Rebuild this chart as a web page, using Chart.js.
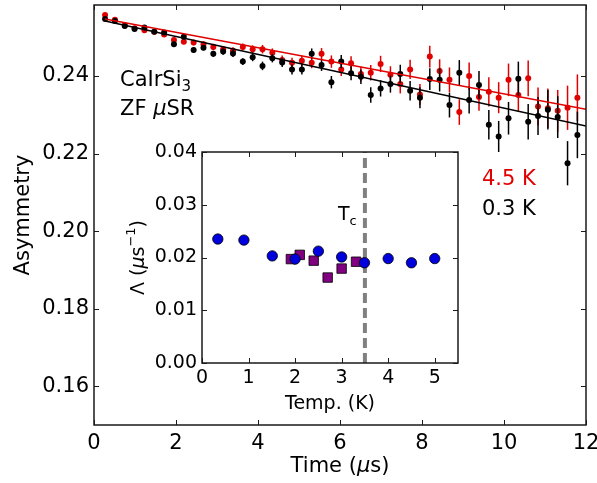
<!DOCTYPE html>
<html><head><meta charset="utf-8">
<script src="https://cdn.jsdelivr.net/npm/chart.js@4/dist/chart.umd.min.js"></script>
<style>
html,body{margin:0;padding:0;background:#fff;}
#wrap{position:relative;width:597px;height:483px;overflow:hidden;}
#main{position:absolute;left:0;top:0;}
#inset{position:absolute;left:120px;top:140px;}
</style></head>
<body><div id="wrap">
<canvas id="main" width="597" height="483"></canvas>
<canvas id="inset" width="350" height="278"></canvas>
</div>
<script>
// ---- main panel data ----
const times = [0.27,0.51,0.75,0.99,1.23,1.47,1.71,1.95,2.19,2.43,2.67,2.91,3.15,3.39,3.63,3.87,4.11,4.35,4.59,4.83,5.07,5.31,5.55,5.79,6.03,6.27,6.51,6.75,6.99,7.23,7.47,7.71,7.95,8.19,8.43,8.67,8.91,9.15,9.39,9.63,9.87,10.11,10.35,10.59,10.83,11.07,11.31,11.55,11.79];
const asym03K = [0.2547,0.2542,0.2529,0.2521,0.2525,0.2514,0.2512,0.2482,0.2501,0.2467,0.2473,0.2457,0.2463,0.2458,0.2437,0.2448,0.2426,0.2446,0.2435,0.2417,0.2417,0.2457,0.2428,0.2384,0.2437,0.2407,0.2398,0.2351,0.2368,0.2379,0.2405,0.2362,0.2344,0.2392,0.2390,0.2325,0.2408,0.2338,0.2377,0.2274,0.2244,0.2291,0.2393,0.2282,0.2297,0.2313,0.2294,0.2175,0.2248];
const asym45K = [0.2557,0.2545,0.2531,0.2523,0.2518,0.2514,0.2507,0.2493,0.2488,0.2486,0.2482,0.2475,0.2469,0.2465,0.2475,0.2469,0.2469,0.2460,0.2441,0.2434,0.2439,0.2434,0.2457,0.2437,0.2417,0.2433,0.2405,0.2408,0.2431,0.2403,0.2379,0.2417,0.2352,0.2450,0.2413,0.2390,0.2307,0.2400,0.2346,0.2359,0.2344,0.2390,0.2351,0.2394,0.2321,0.2317,0.2310,0.2318,0.2344];
const asymErr = [0.0004,0.0004,0.0005,0.0005,0.0005,0.0005,0.0006,0.0006,0.0006,0.0007,0.0007,0.0008,0.0008,0.0009,0.0009,0.0010,0.0011,0.0011,0.0012,0.0013,0.0013,0.0014,0.0015,0.0016,0.0017,0.0018,0.0019,0.0020,0.0021,0.0022,0.0024,0.0025,0.0027,0.0028,0.0030,0.0032,0.0033,0.0035,0.0036,0.0038,0.0040,0.0042,0.0044,0.0046,0.0049,0.0051,0.0054,0.0057,0.0060];
const fitTimes = [0.27, 12];
const fit03K = [0.2542, 0.2271];
const fit45K = [0.2547, 0.2314];
const mainXTicks = [0,2,4,6,8,10,12];
const mainYTicks = [0.16,0.18,0.20,0.22,0.24];

// ---- inset data ----
const tempCircles = [0.34,0.90,1.51,2.0,2.5,3.0,3.49,4.0,4.5,5.0];
const lambdaCircles = [0.0235,0.0233,0.0203,0.0197,0.0212,0.0201,0.0190,0.0198,0.0190,0.0198];
const tempSquares = [1.91,2.1,2.4,2.7,3.0,3.31];
const lambdaSquares = [0.0197,0.0205,0.0194,0.0162,0.0179,0.0192];
const tcValue = 3.5;
const insetXTicks = [0,1,2,3,4,5];
const insetYTicks = [0.00,0.01,0.02,0.03,0.04];

const FONT = "'DejaVu Sans', sans-serif";
const zip = (xs, ys) => xs.map((x, i) => ({x, y: ys[i]}));

// draw a run of text parts [text, fontSpec, dy] starting at x (left aligned)
function drawParts(ctx, parts, x, y) {
  parts.forEach(([txt, font, dy]) => {
    ctx.font = font;
    ctx.fillText(txt, x, y + (dy || 0));
    x += ctx.measureText(txt).width;
  });
}
function partsWidth(ctx, parts) {
  let w = 0;
  parts.forEach(([txt, font]) => { ctx.font = font; w += ctx.measureText(txt).width; });
  return w;
}

const errorBars = {
  id: 'errorBars',
  beforeDatasetDraw(chart, args) {
    const ds = chart.data.datasets[args.index];
    if (!ds.errors) return;
    const {ctx, chartArea: a} = chart;
    const xs = chart.scales.x, ys = chart.scales.y;
    ctx.save();
    ctx.beginPath(); ctx.rect(a.left, a.top, a.width, a.height); ctx.clip();
    ctx.strokeStyle = ds.borderColor; ctx.lineWidth = 1.5;
    ds.data.forEach((p, i) => {
      const x = xs.getPixelForValue(p.x);
      ctx.beginPath();
      ctx.moveTo(x, ys.getPixelForValue(p.y - ds.errors[i]));
      ctx.lineTo(x, ys.getPixelForValue(p.y + ds.errors[i]));
      ctx.stroke();
    });
    ctx.restore();
  }
};

const frame = {
  id: 'frame',
  afterDraw(chart) {
    const {ctx, chartArea: a} = chart;
    const xs = chart.scales.x, ys = chart.scales.y;
    ctx.save();
    ctx.strokeStyle = '#1a1a1a';
    ctx.lineWidth = 1;
    const L = 5;
    xs.ticks.forEach(t => {
      const px = Math.round(xs.getPixelForValue(t.value)) + 0.5;
      ctx.beginPath();
      ctx.moveTo(px, a.bottom); ctx.lineTo(px, a.bottom - L);
      ctx.moveTo(px, a.top); ctx.lineTo(px, a.top + L);
      ctx.stroke();
    });
    ys.ticks.forEach(t => {
      const py = Math.round(ys.getPixelForValue(t.value)) + 0.5;
      ctx.beginPath();
      ctx.moveTo(a.left, py); ctx.lineTo(a.left + L, py);
      ctx.moveTo(a.right, py); ctx.lineTo(a.right - L, py);
      ctx.stroke();
    });
    ctx.lineWidth = 1.5;
    ctx.strokeRect(a.left, a.top, a.width, a.height);
    ctx.restore();
  }
};

const mainNotes = {
  id: 'mainNotes',
  afterDraw(chart) {
    const ctx = chart.ctx;
    const a = chart.chartArea;
    const N = "21px " + FONT, I = "italic 21px " + FONT, S = "15px " + FONT;
    ctx.save();
    ctx.textBaseline = 'alphabetic';
    ctx.textAlign = 'left';
    ctx.fillStyle = '#000';
    drawParts(ctx, [['CaIrSi', N], ['3', S, 5]], 120, 86);
    drawParts(ctx, [['ZF ', N], ['\u03bc', I], ['SR', N]], 120, 115);
    ctx.font = N;
    ctx.fillStyle = '#e00000';
    ctx.fillText('4.5 K', 482, 185);
    ctx.fillStyle = '#000';
    ctx.fillText('0.3 K', 482, 215);
    // x axis title with italic mu
    const xt = [['Time (', N], ['\u03bc', I], ['s)', N]];
    ctx.textBaseline = 'middle';
    drawParts(ctx, xt, (a.left + a.right) / 2 - partsWidth(ctx, xt) / 2, 467);
    ctx.restore();
  }
};

new Chart(document.getElementById('main'), {
  type: 'scatter',
  data: {
    datasets: [
      {label: '0.3 K fit', type: 'line', data: zip(fitTimes, fit03K), borderColor: '#000', borderWidth: 1.5, pointRadius: 0, order: 1},
      {label: '4.5 K fit', type: 'line', data: zip(fitTimes, fit45K), borderColor: '#e00000', borderWidth: 1.5, pointRadius: 0, order: 0},
      {label: '0.3 K', data: zip(times, asym03K), errors: asymErr, borderColor: '#000', backgroundColor: '#000', pointRadius: 3, pointBorderWidth: 0, order: 2},
      {label: '4.5 K', data: zip(times, asym45K), errors: asymErr, borderColor: '#e00000', backgroundColor: '#e00000', pointRadius: 3, pointBorderWidth: 0, order: 3}
    ]
  },
  options: {
    responsive: false, animation: false, devicePixelRatio: 1,
    layout: {padding: {left: 0, top: 5, right: 11, bottom: 0}},
    plugins: {legend: {display: false}, tooltip: {enabled: false}},
    scales: {
      x: {
        type: 'linear', min: 0, max: 12,
        afterBuildTicks: s => { s.ticks = mainXTicks.map(v => ({value: v})); },
        afterFit: s => { s.height = 58; s.paddingLeft = 0; s.paddingRight = 0; },
        grid: {display: false, drawTicks: false}, border: {display: false},
        ticks: {color: '#000', font: {family: FONT, size: 21}, padding: 6, maxRotation: 0, callback: v => String(v)},
        title: {display: false, text: 'Time (\u03bcs)'}
      },
      y: {
        type: 'linear', min: 0.15, max: 0.2583,
        afterBuildTicks: s => { s.ticks = mainYTicks.map(v => ({value: v})); },
        afterFit: s => { s.width = 94; s.paddingTop = 0; s.paddingBottom = 0; },
        grid: {display: false, drawTicks: false}, border: {display: false},
        ticks: {color: '#000', font: {family: FONT, size: 21}, padding: 5, callback: v => Number(v).toFixed(2)},
        title: {display: true, text: 'Asymmetry', color: '#000', font: {family: FONT, size: 21}, padding: {top: 11, bottom: 0}}
      }
    }
  },
  plugins: [errorBars, frame, mainNotes]
});

const insetNotes = {
  id: 'insetNotes',
  afterDraw(chart) {
    const ctx = chart.ctx;
    const xs = chart.scales.x, ys = chart.scales.y;
    const a = chart.chartArea;
    ctx.save();
    ctx.fillStyle = '#000';
    ctx.textBaseline = 'alphabetic';
    ctx.textAlign = 'left';
    const tx = xs.getPixelForValue(tcValue) - 27;
    const ty = ys.getPixelForValue(0.03) + 15;
    drawParts(ctx, [['T', "19px " + FONT], ['c', "13px " + FONT, 5]], tx, ty);
    // y axis title with italic mu and superscript
    const N = "19px " + FONT, I = "italic 19px " + FONT, S = "13px " + FONT;
    const yt = [['\u039b (', N], ['\u03bc', I], ['s', N], ['\u22121', S, -7], [')', N]];
    ctx.translate(19, (a.top + a.bottom) / 2);
    ctx.rotate(-Math.PI / 2);
    ctx.textBaseline = 'middle';
    drawParts(ctx, yt, -partsWidth(ctx, yt) / 2, 0);
    ctx.restore();
  }
};

new Chart(document.getElementById('inset'), {
  type: 'scatter',
  data: {
    datasets: [
      {label: 'Tc', type: 'line', data: [{x: tcValue, y: insetYTicks[0]}, {x: tcValue, y: insetYTicks[insetYTicks.length - 1]}], borderColor: '#808080', borderWidth: 4, borderDash: [10, 5], pointRadius: 0, order: 3},
      {label: 'squares', data: zip(tempSquares, lambdaSquares), pointStyle: 'rect', pointRadius: 6.7, backgroundColor: '#800080', borderColor: '#000', pointBorderWidth: 0.8, order: 1},
      {label: 'circles', data: zip(tempCircles, lambdaCircles), pointStyle: 'circle', pointRadius: 5.2, backgroundColor: '#0000dd', borderColor: '#000', pointBorderWidth: 0.8, order: 0}
    ]
  },
  options: {
    responsive: false, animation: false, devicePixelRatio: 1,
    layout: {padding: {left: 0, top: 12, right: 12, bottom: 0}},
    plugins: {legend: {display: false}, tooltip: {enabled: false}},
    scales: {
      x: {
        type: 'linear', min: 0, max: 5.5,
        afterBuildTicks: s => { s.ticks = insetXTicks.map(v => ({value: v})); },
        afterFit: s => { s.height = 55; s.paddingLeft = 0; s.paddingRight = 0; },
        grid: {display: false, drawTicks: false}, border: {display: false},
        ticks: {color: '#000', font: {family: FONT, size: 19}, padding: 4, maxRotation: 0, callback: v => String(v)},
        title: {display: true, text: 'Temp. (K)', color: '#000', font: {family: FONT, size: 19}, padding: {top: 0, bottom: 3}}
      },
      y: {
        type: 'linear', min: 0, max: 0.04,
        afterBuildTicks: s => { s.ticks = insetYTicks.map(v => ({value: v})); },
        afterFit: s => { s.width = 82; s.paddingTop = 0; s.paddingBottom = 0; },
        grid: {display: false, drawTicks: false}, border: {display: false},
        ticks: {color: '#000', font: {family: FONT, size: 19}, padding: 5, callback: v => Number(v).toFixed(2)},
        title: {display: false, text: '\u039b (\u03bcs\u207b\u00b9)'}
      }
    }
  },
  plugins: [frame, insetNotes]
});
</script>
</body></html>
